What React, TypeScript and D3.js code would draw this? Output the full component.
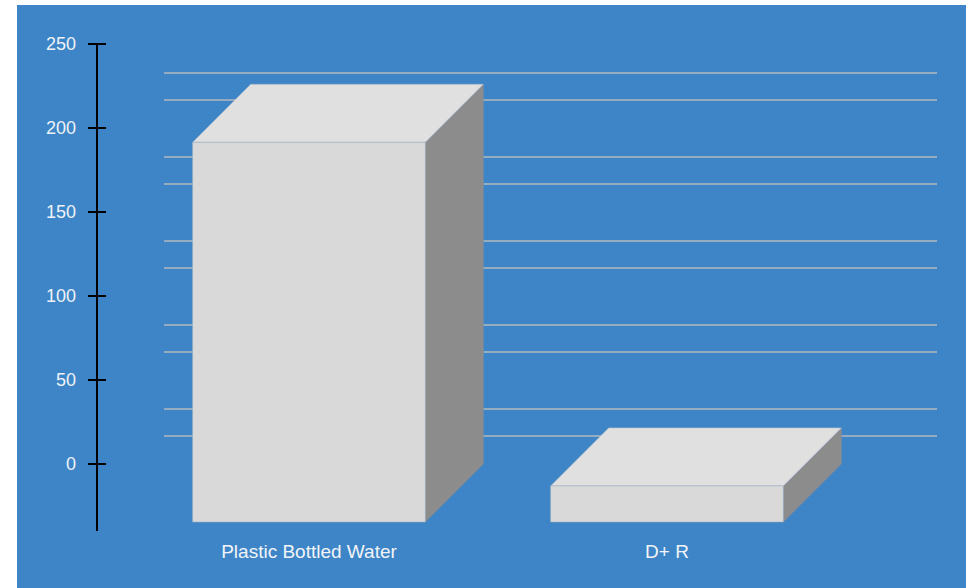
import React from "react";
import * as d3 from "d3";

// Chart data
const categories: string[] = ["Plastic Bottled Water", "D+ R"];
const values: number[] = [226, 21.5];
const tickValues: number[] = [0, 50, 100, 150, 200, 250];
const gridValues: number[] = [50, 100, 150, 200, 250];

const W = 974;
const H = 588;
const DEPTH = 58; // 3D extrusion offset (px, up and to the right)

export default function App() {
  const y = d3.scaleLinear().domain([0, 250]).range([464, 44]);
  const x = d3
    .scaleBand<string>()
    .domain(categories)
    .range([130, 846])
    .paddingInner(0.35)
    .paddingOuter(0.175);

  const bw = x.bandwidth();
  // gridlines drawn on two depth planes behind the bars
  const gridOffsets = [56, 29];

  return (
    <svg
      width={W}
      height={H}
      style={{ position: "absolute", left: 0, top: 0, fontFamily: "'Liberation Sans', Arial, sans-serif" }}
    >
      <rect x={0} y={0} width={W} height={H} fill="#ffffff" />
      <rect x={17} y={5} width={949} height={583} fill="#3d85c6" />

      {/* gridlines */}
      {gridValues.map((v) =>
        gridOffsets.map((off) => (
          <line
            key={`${v}-${off}`}
            x1={164}
            x2={937}
            y1={y(v) + off}
            y2={y(v) + off}
            stroke="#b4b8bd"
            strokeWidth={1.6}
          />
        ))
      )}

      {/* 3D bars */}
      {categories.map((c, i) => {
        const x0 = x(c) as number;
        const x1 = x0 + bw;
        const yBase = y(0) + DEPTH;
        const yTop = y(values[i]) + DEPTH;
        const front = `M${x0},${yTop}L${x1},${yTop}L${x1},${yBase}L${x0},${yBase}Z`;
        const top = `M${x0},${yTop}L${x0 + DEPTH},${yTop - DEPTH}L${x1 + DEPTH},${yTop - DEPTH}L${x1},${yTop}Z`;
        const side = `M${x1},${yTop}L${x1 + DEPTH},${yTop - DEPTH}L${x1 + DEPTH},${yBase - DEPTH}L${x1},${yBase}Z`;
        return (
          <g key={c}>
            <path d={side} fill="#8c8c8c" stroke="#7f8a96" strokeWidth={0.6} />
            <path d={top} fill="#e0e0e0" stroke="#a9b9c9" strokeWidth={0.6} />
            <path d={front} fill="#d9d9d9" stroke="#9fb0c2" strokeWidth={0.6} />
          </g>
        );
      })}

      {/* y axis */}
      <line x1={97} x2={97} y1={y(250)} y2={531} stroke="#000" strokeWidth={2} />
      {tickValues.map((t) => (
        <g key={t}>
          <line x1={88} x2={106} y1={y(t)} y2={y(t)} stroke="#000" strokeWidth={2} />
          <text
            x={76}
            y={y(t)}
            textAnchor="end"
            dominantBaseline="central"
            fontSize={18}
            fill="#eef2f7"
          >
            {t}
          </text>
        </g>
      ))}

      {/* category labels */}
      {categories.map((c) => (
        <text
          key={c}
          x={(x(c) as number) + bw / 2}
          y={558}
          textAnchor="middle"
          fontSize={19}
          fill="#f2f4f7"
        >
          {c}
        </text>
      ))}
    </svg>
  );
}
